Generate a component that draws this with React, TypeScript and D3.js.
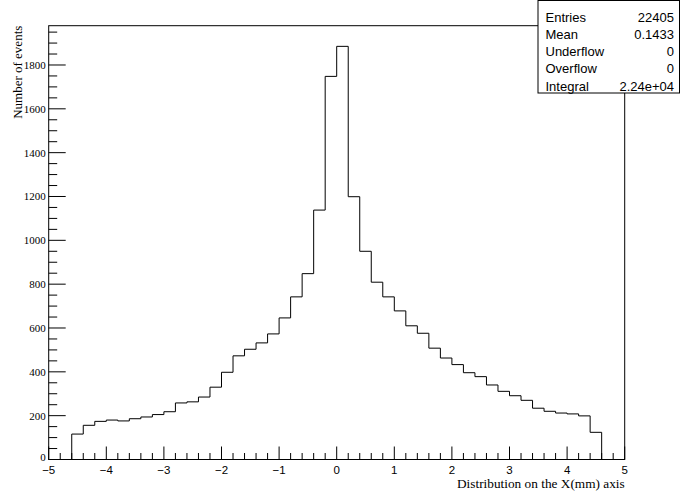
import React from "react";
import * as d3 from "d3";

// Histogram binning: 50 bins of 0.2 mm over [-5, 5]
const xMin = -5;
const xMax = 5;
const binWidth = 0.2;

// Bin contents (events per bin), from x = -5 upward
const counts = [
  0, 0,
  116, 156, 174, 180, 176, 186, 194, 205, 218, 258, 263, 285, 330, 398, 473,
  503, 532, 573, 646, 742, 848, 1138, 1748,
  1885, 1199, 950, 809, 742, 678, 610, 576, 508, 463, 433, 396, 378, 340, 311,
  291, 270, 234, 220, 212, 208, 199, 124,
  0, 0,
];

const xTicks = [-5, -4, -3, -2, -1, 0, 1, 2, 3, 4, 5];
const yTicks = [0, 200, 400, 600, 800, 1000, 1200, 1400, 1600, 1800];

const statNames = ["Entries", "Mean", "Underflow", "Overflow", "Integral"];
const statValues = ["22405", "0.1433", "0", "0", "2.24e+04"];

const W = 680;
const H = 493;
const frame = { left: 48.7, right: 624.7, top: 25.7, bottom: 459.5 };

export default function App() {
  const yMax = 1.05 * (d3.max(counts) as number);
  const x = d3.scaleLinear().domain([xMin, xMax]).range([frame.left, frame.right]);
  const y = d3.scaleLinear().domain([0, yMax]).range([frame.bottom, frame.top]);

  const pts: [number, number][] = counts.map((c, i) => [xMin + i * binWidth, c]);
  pts.push([xMax, 0]);
  const line = d3
    .line<[number, number]>()
    .x((d) => x(d[0]))
    .y((d) => y(d[1]))
    .curve(d3.curveStepAfter);

  const xMinor = d3.range(0, 51).map((i) => xMin + i * binWidth);
  const yMinor = d3.range(0, Math.floor(yMax / 50) + 1).map((i) => i * 50);

  const serif = "'Liberation Serif', 'DejaVu Serif', serif";
  const sans = "'Liberation Sans', Arial, sans-serif";

  const box = { left: 538, top: 0.5, right: 679.5, bottom: 93 };

  return (
    <svg
      width={W}
      height={H}
      style={{ position: "absolute", left: 0, top: 0, background: "#fff" }}
    >
      <rect x={0} y={0} width={W} height={H} fill="#fff" />

      {/* histogram */}
      <path d={line(pts) || ""} fill="none" stroke="#000" strokeWidth={1} />

      {/* frame */}
      <rect
        x={frame.left}
        y={frame.top}
        width={frame.right - frame.left}
        height={frame.bottom - frame.top}
        fill="none"
        stroke="#000"
        strokeWidth={1}
      />

      {/* x axis ticks */}
      {xMinor.map((v, i) => {
        const major = Math.abs(v - Math.round(v)) < 1e-6;
        return (
          <line
            key={"xt" + i}
            x1={x(v)}
            x2={x(v)}
            y1={frame.bottom}
            y2={frame.bottom - (major ? 13 : 6.5)}
            stroke="#000"
            strokeWidth={1}
          />
        );
      })}
      {xTicks.map((v) => (
        <text
          key={"xl" + v}
          x={x(v)}
          y={frame.bottom + 14}
          textAnchor="middle"
          fontFamily={sans}
          fontSize={11.5}
        >
          {v < 0 ? "\u2212" + Math.abs(v) : String(v)}
        </text>
      ))}
      <text
        x={frame.right}
        y={488}
        textAnchor="end"
        fontFamily={serif}
        fontSize={13.3}
      >
        Distribution on the X(mm) axis
      </text>

      {/* y axis ticks */}
      {yMinor.map((v, i) => {
        const major = v % 200 === 0;
        return (
          <line
            key={"yt" + i}
            x1={frame.left}
            x2={frame.left + (major ? 17 : 8.5)}
            y1={y(v)}
            y2={y(v)}
            stroke="#000"
            strokeWidth={1}
          />
        );
      })}
      {yTicks.map((v) => (
        <text
          key={"yl" + v}
          x={frame.left - 3}
          y={y(v) + (v === 0 ? 1 : 4)}
          textAnchor="end"
          fontFamily={serif}
          fontSize={11}
        >
          {v}
        </text>
      ))}
      <text
        transform={`translate(22, ${frame.top}) rotate(-90)`}
        textAnchor="end"
        fontFamily={serif}
        fontSize={13}
      >
        Number of events
      </text>

      {/* statistics box */}
      <rect
        x={box.left}
        y={box.top}
        width={box.right - box.left}
        height={box.bottom - box.top}
        fill="#fff"
        stroke="#000"
        strokeWidth={1}
      />
      {statNames.map((n, i) => (
        <g key={"st" + i}>
          <text
            x={545.5}
            y={21.5 + i * 17.3}
            fontFamily={sans}
            fontSize={13}
          >
            {n}
          </text>
          <text
            x={674}
            y={21.5 + i * 17.3}
            textAnchor="end"
            fontFamily={sans}
            fontSize={13}
          >
            {statValues[i]}
          </text>
        </g>
      ))}
    </svg>
  );
}
